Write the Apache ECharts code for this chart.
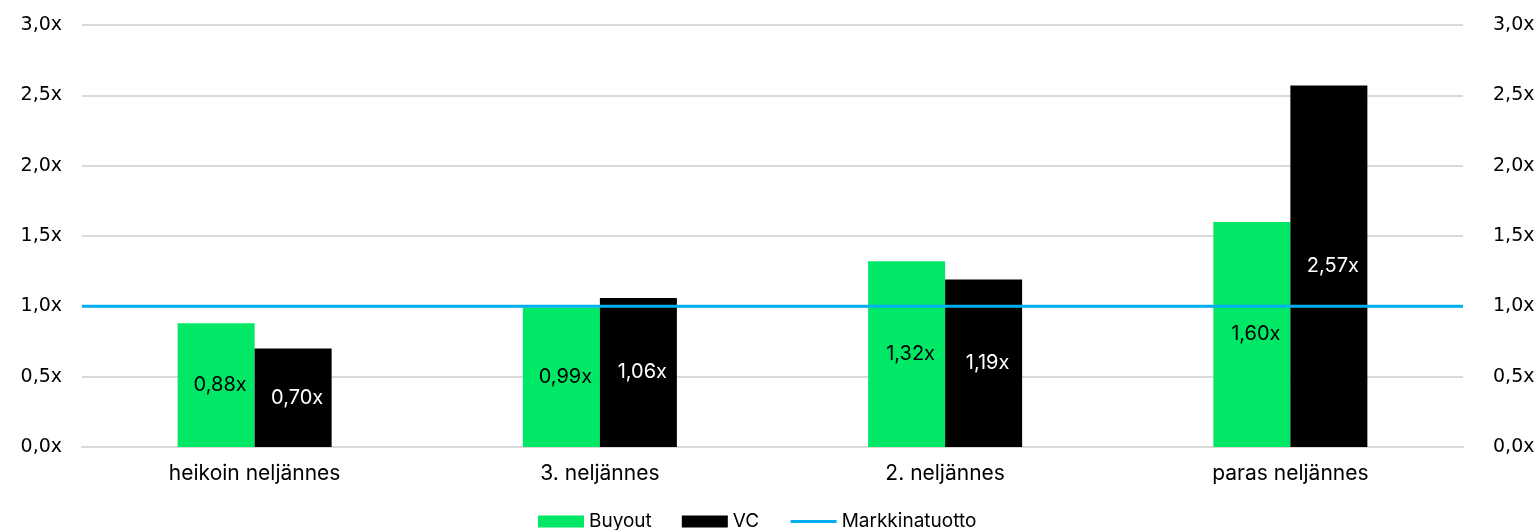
<!DOCTYPE html>
<html>
<head>
<meta charset="utf-8">
<script src="https://cdn.jsdelivr.net/npm/echarts@6/dist/echarts.min.js"></script>
<style>html,body{margin:0;padding:0;background:#fff}#c{width:1534px;height:530px}</style>
</head>
<body>
<div id="c"></div>
<script>
const categories = ['heikoin neljännes', '3. neljännes', '2. neljännes', 'paras neljännes'];
const buyout = [0.88, 0.99, 1.32, 1.60];
const vc = [0.70, 1.06, 1.19, 2.57];
const market = [1.0, 1.0, 1.0, 1.0];
const seriesNames = ['Buyout', 'VC', 'Markkinatuotto'];

const fmt = v => v.toFixed(1).replace('.', ',') + 'x';
const fmt2 = v => v.toFixed(2).replace('.', ',') + 'x';
const labelFont = 'Inter, "Noto Sans", sans-serif';
const axisFont = '"DejaVu Sans", sans-serif';

const chart = echarts.init(document.getElementById('c'), null, {renderer: 'canvas'});
const yBase = {
  type: 'value', min: 0, max: 3, interval: 0.5,
  axisLine: {show: false}, axisTick: {show: false},
  axisLabel: {formatter: fmt, color: '#000', fontSize: 19, fontFamily: axisFont}
};
chart.setOption({
  animation: false,
  grid: {left: 82, right: 71, top: 25, height: 422, containLabel: false, outerBoundsMode: 'none'},
  legend: {
    data: [
      {name: seriesNames[0], icon: 'rect'},
      {name: seriesNames[1], icon: 'rect'},
      {name: seriesNames[2], itemStyle: {opacity: 0}, lineStyle: {width: 3}}
    ],
    top: 512, left: 538, padding: 0, itemWidth: 46, itemHeight: 12, itemGap: 30,
    textStyle: {fontSize: 19, color: '#000', fontFamily: labelFont}
  },
  xAxis: [
    {type: 'category', data: categories,
     axisLine: {lineStyle: {color: '#d9d9d9', width: 2}}, axisTick: {show: false},
     axisLabel: {color: '#000', fontSize: 21, fontFamily: labelFont, margin: 16}},
    {type: 'category', data: categories, boundaryGap: false, show: false}
  ],
  yAxis: [
    Object.assign({}, yBase, {splitLine: {lineStyle: {color: '#d9d9d9', width: 2}}, axisLabel: Object.assign({}, yBase.axisLabel, {margin: 20})}),
    Object.assign({}, yBase, {position: 'right', splitLine: {show: false}, axisLabel: Object.assign({}, yBase.axisLabel, {margin: 30, align: 'left'})})
  ],
  series: [
    {name: seriesNames[0], type: 'bar', data: buyout, barWidth: 77, barGap: '0%',
     itemStyle: {color: '#00E865'},
     label: {show: true, position: 'inside', offset: [4, 0], formatter: p => fmt2(p.value), color: '#000', fontSize: 20, fontFamily: labelFont}},
    {name: seriesNames[1], type: 'bar', data: vc, barWidth: 77,
     itemStyle: {color: '#000000'},
     label: {show: true, position: 'inside', offset: [4, 0], formatter: p => fmt2(p.value), color: '#fff', fontSize: 20, fontFamily: labelFont}},
    {name: seriesNames[2], type: 'line', xAxisIndex: 1, data: market, symbol: 'none', showSymbol: false, z: 5,
     lineStyle: {color: '#00B0F0', width: 3}, itemStyle: {color: '#00B0F0'}}
  ]
});
</script>
</body>
</html>
